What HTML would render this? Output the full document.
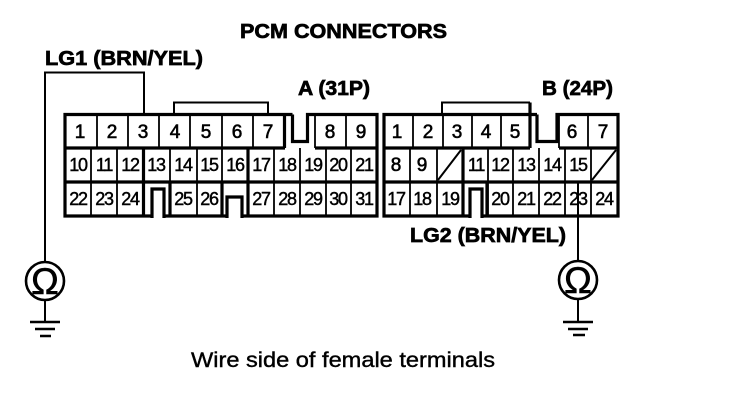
<!DOCTYPE html>
<html>
<head>
<meta charset="utf-8">
<style>
html,body{margin:0;padding:0;background:#fff;width:736px;height:402px;overflow:hidden}
svg{display:block}
text{font-family:"Liberation Sans",sans-serif;fill:#000}
.b{font-weight:bold;font-size:20.500px;stroke:#000;stroke-width:.7}
.n{font-size:19px;text-anchor:middle;stroke:#000;stroke-width:.6}
.m{font-size:18px;text-anchor:middle;letter-spacing:-1.200px;stroke:#000;stroke-width:.45}
.t{stroke:#000;stroke-width:3.200;fill:none}
.s{stroke:#000;stroke-width:1.800;fill:none}
.w{stroke:#000;stroke-width:2;fill:none}
.g{stroke:#000;stroke-width:2.600;fill:none}
</style>
</head>
<body>
<svg width="736" height="402" viewBox="0 0 736 402" xmlns="http://www.w3.org/2000/svg">
<rect width="736" height="402" fill="#fff"/>

<!-- Connector A -->
<path class="t" d="M292.500 114.500H65V216H377V114.500H307.500V141.500H292.500V114.500"/>
<path class="t" d="M65 148H285M315 148H377M65 182H377M284.500 114.500V148"/>
<path class="w" d="M174 114V102.500H268V114"/>
<path class="s" d="M97 114V148M128 114V148M159 114V148M190 114V148M222 114V148M253 114V148M315 114V148M346 114V148"/>
<path class="s" d="M91 148V216M117 148V216M170 148V182M197 148V216M222 148V182M274 148V216M300 148V216M326 148V216M351 148V216"/>
<path class="t" d="M143.500 148V216M170 182V216M222 182V216M248 148V216"/>
<rect x="153.500" y="191" width="9" height="28" fill="#fff"/>
<rect x="228.500" y="199" width="12" height="20" fill="#fff"/>
<path class="t" d="M152 218V189H164V218M227 218V197H242V218"/>

<!-- Connector B -->
<path class="t" d="M537 114.500H384V216H618V114.500H557V141.500H537V114.500"/>
<path class="t" d="M384 148H530M559 148H618M384 182H618M530 102.500V148"/>
<path class="w" d="M442 114V102.500H530"/>
<path class="s" d="M413 114V148M443 114V148M472 114V148M501 114V148M559 114V148M588 114V148"/>
<path class="s" d="M410 148V216M437 148V216M463 148V182M488 148V216M513 148V216M539 148V216M565 148V216M591 148V216"/>
<path class="t" d="M463 148V216M487 182V216"/>
<rect x="471.500" y="191" width="9" height="28" fill="#fff"/>
<path class="t" d="M470 218V189H482V218"/>
<path class="w" d="M438 180L461 150M592 180L616 150"/>

<!-- Row 1 A -->
<text class="n" x="80" y="138">1</text>
<text class="n" x="112" y="138">2</text>
<text class="n" x="143" y="138">3</text>
<text class="n" x="175" y="138">4</text>
<text class="n" x="206" y="138">5</text>
<text class="n" x="237" y="138">6</text>
<text class="n" x="268" y="138">7</text>
<text class="n" x="330" y="138">8</text>
<text class="n" x="361" y="138">9</text>
<!-- Row 2 A -->
<text class="m" x="78" y="171">10</text>
<text class="m" x="104" y="171">11</text>
<text class="m" x="130" y="171">12</text>
<text class="m" x="156" y="171">13</text>
<text class="m" x="183" y="171">14</text>
<text class="m" x="209" y="171">15</text>
<text class="m" x="235" y="171">16</text>
<text class="m" x="261" y="171">17</text>
<text class="m" x="287" y="171">18</text>
<text class="m" x="313" y="171">19</text>
<text class="m" x="338" y="171">20</text>
<text class="m" x="364" y="171">21</text>
<!-- Row 3 A -->
<text class="m" x="78" y="205">22</text>
<text class="m" x="104" y="205">23</text>
<text class="m" x="130" y="205">24</text>
<text class="m" x="183" y="205">25</text>
<text class="m" x="209" y="205">26</text>
<text class="m" x="261" y="205">27</text>
<text class="m" x="287" y="205">28</text>
<text class="m" x="313" y="205">29</text>
<text class="m" x="338" y="205">30</text>
<text class="m" x="364" y="205">31</text>

<!-- Row 1 B -->
<text class="n" x="397" y="138">1</text>
<text class="n" x="428" y="138">2</text>
<text class="n" x="457" y="138">3</text>
<text class="n" x="486" y="138">4</text>
<text class="n" x="515" y="138">5</text>
<text class="n" x="572" y="138">6</text>
<text class="n" x="603" y="138">7</text>
<!-- Row 2 B -->
<text class="n" x="396" y="171">8</text>
<text class="n" x="422" y="171">9</text>
<text class="m" x="476" y="171">11</text>
<text class="m" x="500" y="171">12</text>
<text class="m" x="526" y="171">13</text>
<text class="m" x="552" y="171">14</text>
<text class="m" x="578" y="171">15</text>
<!-- Row 3 B -->
<text class="m" x="396" y="205">17</text>
<text class="m" x="422" y="205">18</text>
<text class="m" x="450" y="205">19</text>
<text class="m" x="500" y="205">20</text>
<text class="m" x="526" y="205">21</text>
<text class="m" x="552" y="205">22</text>
<text class="m" x="578" y="205">23</text>
<text class="m" x="604" y="205">24</text>

<!-- Wires -->
<path class="w" d="M45 261V72.500H144V114"/>
<path class="w" d="M578 183V261"/>

<!-- Meter A -->
<circle cx="45" cy="281" r="19" fill="#fff" stroke="#000" stroke-width="2.600"/>
<text x="45" y="294" font-size="37" text-anchor="middle" style="stroke:#000;stroke-width:.6">Ω</text>
<path class="w" d="M45 300V322"/>
<path class="g" d="M30 322H60M35 329H55M40 336H51"/>

<!-- Meter B -->
<circle cx="578" cy="280" r="19" fill="#fff" stroke="#000" stroke-width="2.600"/>
<text x="578" y="293" font-size="37" text-anchor="middle" style="stroke:#000;stroke-width:.6">Ω</text>
<path class="w" d="M578 299V322"/>
<path class="g" d="M563 322H593M568 329H588M573 335H585"/>

<!-- Labels -->
<text class="b" x="240" y="38" textLength="207" lengthAdjust="spacingAndGlyphs">PCM CONNECTORS</text>
<text class="b" x="45" y="65" textLength="158" lengthAdjust="spacingAndGlyphs">LG1 (BRN/YEL)</text>
<text class="b" x="298" y="95" textLength="72" lengthAdjust="spacingAndGlyphs">A (31P)</text>
<text class="b" x="542" y="95" textLength="71" lengthAdjust="spacingAndGlyphs">B (24P)</text>
<text class="b" x="410" y="242" textLength="156" lengthAdjust="spacingAndGlyphs">LG2 (BRN/YEL)</text>
<text x="191" y="367" font-size="21" textLength="304" lengthAdjust="spacingAndGlyphs" style="stroke:#000;stroke-width:.4">Wire side of female terminals</text>
</svg>
</body>
</html>
